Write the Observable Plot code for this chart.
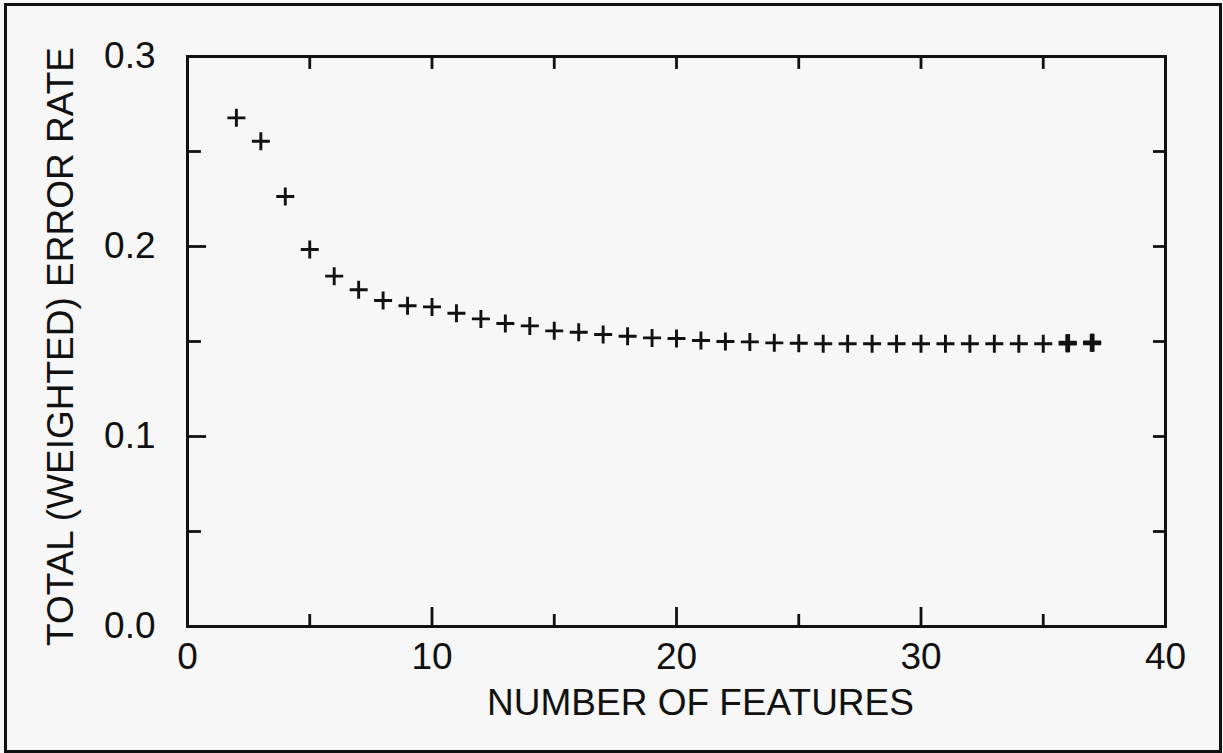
<!DOCTYPE html>
<html><head><meta charset="utf-8">
<script src="https://cdn.jsdelivr.net/npm/d3@7"></script>
<script src="https://cdn.jsdelivr.net/npm/@observablehq/plot@0.6"></script>
<style>
html,body{margin:0;padding:0;background:#f7f7f7;}
#wrap{position:relative;width:1223px;height:753px;overflow:hidden;}
#border{position:absolute;left:4px;top:3px;width:1218px;height:750px;box-sizing:border-box;border:3px solid #111;pointer-events:none;}
#wrap svg{position:absolute;left:0;top:0;}
</style></head><body><div id="wrap"><div id="border"></div></div>
<script>
const features = [2,3,4,5,6,7,8,9,10,11,12,13,14,15,16,17,18,19,20,21,22,23,24,25,26,27,28,29,30,31,32,33,34,35,36,37];
const errorRate = [0.2677,0.2554,0.2263,0.1984,0.1844,0.1772,0.1716,0.1688,0.1682,0.1649,0.1619,0.1595,0.1582,0.1556,0.1549,0.1537,0.1528,0.1519,0.1516,0.1505,0.1500,0.1498,0.1493,0.1491,0.1488,0.1488,0.1488,0.1488,0.1488,0.1488,0.1488,0.1488,0.1488,0.1488,0.1491,0.1493];
const boldFeatures = [36,37];
const xMajorTicks = [0,10,20,30,40];
const xMinorTicks = [5,15,25,35];
const yMajorTicks = [0,0.1,0.2,0.3];
const yMinorTicks = [0.05,0.15,0.25];
const xLabel = "NUMBER OF FEATURES";
const yLabel = "TOTAL (WEIGHTED) ERROR RATE";

const data = features.map((f, i) => ({f, e: errorRate[i], bold: boldFeatures.includes(f)}));
const plusSymbol = {
  draw(ctx, size) {
    const r = Math.sqrt(size / Math.PI);
    ctx.moveTo(-r, 0); ctx.lineTo(r, 0);
    ctx.moveTo(0, -r); ctx.lineTo(0, r);
  }
};
const ink = "#111";
const fs = 37;
const tw = 2.8;
const xLong = 0.78, xShort = 0.57, xRight = 0.49; // y-tick lengths in x data units
const yLong = 0.01, yShort = 0.0063, yTop = 0.0068; // x-tick lengths in y data units

const xTickRows = [
  ...xMajorTicks.map(v => ({v, y1: 0, y2: yLong})),
  ...xMinorTicks.map(v => ({v, y1: 0, y2: yShort})),
  ...[...xMajorTicks, ...xMinorTicks].map(v => ({v, y1: 0.3 - yTop, y2: 0.3}))
];

const chart = Plot.plot({
  width: 1223, height: 753,
  marginLeft: 187, marginRight: 58, marginTop: 56, marginBottom: 127,
  style: {fontFamily: "'Liberation Sans', Arial, sans-serif", color: ink, background: "transparent"},
  x: {domain: [0, 40]},
  y: {domain: [0, 0.3]},
  marks: [
    // inward ticks
    Plot.ruleX(xTickRows, {x: "v", y1: "y1", y2: "y2", stroke: ink, strokeWidth: tw}),
    Plot.ruleY(yMajorTicks, {y: d => d, x1: 0, x2: xLong, stroke: ink, strokeWidth: tw}),
    Plot.ruleY(yMinorTicks, {y: d => d, x1: 0, x2: xShort, stroke: ink, strokeWidth: tw}),
    Plot.ruleY([...yMajorTicks, ...yMinorTicks], {y: d => d, x1: 40 - xRight, x2: 40, stroke: ink, strokeWidth: tw}),
    Plot.frame({stroke: ink, strokeWidth: 3}),
    // tick labels
    Plot.axisX(xMajorTicks, {anchor: "bottom", tickSize: 0, tickPadding: 16, fontSize: fs, label: null}),
    Plot.axisY(yMajorTicks, {anchor: "left", tickSize: 0, tickPadding: 32, fontSize: fs, tickFormat: d3.format(".1f"), label: null}),
    // axis titles
    Plot.text([xLabel], {text: d => d, frameAnchor: "bottom", dx: 24, dy: 77, fontSize: fs, lineAnchor: "middle", textAnchor: "middle", fill: ink}),
    Plot.text([yLabel], {text: d => d, frameAnchor: "left", rotate: -90, dx: -126, dy: 5, fontSize: fs, lineAnchor: "middle", textAnchor: "middle", fill: ink}),
    // data
    Plot.dot(data, {x: "f", y: "e", symbol: plusSymbol, r: 9, fill: "none", stroke: ink, strokeWidth: 2.9}),
    Plot.dot(data.filter(d => d.bold), {x: "f", y: "e", symbol: plusSymbol, r: 9, fill: "none", stroke: ink, strokeWidth: 4.8})
  ]
});
document.getElementById("wrap").prepend(chart);
</script>
</body></html>
